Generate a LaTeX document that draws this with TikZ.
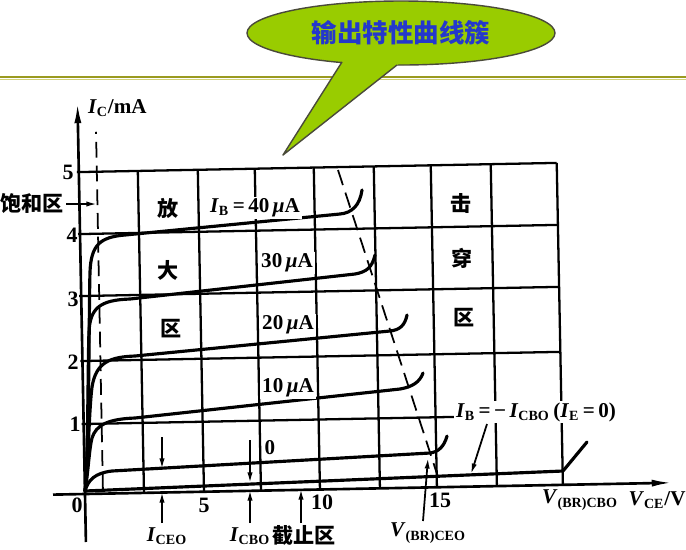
\documentclass[tikz,border=0pt]{standalone}
\usepackage{fontspec}
\setmainfont{Liberation Serif}
\newfontfamily\cjk{Noto Sans CJK SC}
\usetikzlibrary{arrows.meta}
\definecolor{bubblegreen}{HTML}{99CC00}
\definecolor{bubbleedge}{HTML}{4A4A3A}
\definecolor{titleblue}{HTML}{2438CC}
\definecolor{olivebar}{HTML}{9A9A20}
\definecolor{olivelight}{HTML}{D2D27A}
\begin{document}
\begin{tikzpicture}[x=0.02cm,y=-0.02cm,
  gridline/.style={line width=1.3pt},
  axisline/.style={line width=1.5pt},
  curve/.style={line width=1.8pt, line join=round, line cap=round},
  dashline/.style={line width=1pt, dash pattern=on 9pt off 4.5pt},
  lbl/.style={font=\bfseries\fontsize{12}{14}\selectfont, inner sep=1pt},
  wlbl/.style={lbl, fill=white},
  cn/.style={font=\cjk\bfseries\fontsize{12}{14}\selectfont, inner sep=1pt},
  ticklbl/.style={font=\bfseries\fontsize{12.5}{14}\selectfont, inner sep=0pt},
  arr/.style={line width=1pt, -{Latex[length=6pt,width=3pt]}},
]
\fill[white] (0,0) rectangle (686,549);
\useasboundingbox (0,0) rectangle (686,549);

% top bar
\draw[olivebar, line width=1.2pt] (0,77) -- (686,77);
\draw[olivelight, line width=0.8pt] (0,79.3) -- (686,79.3);

% grid and axes (slightly rotated like the scan)
\begin{scope}[shift={(85,494)}, rotate=1.1, x=0.02cm, y=0.02cm]
  \foreach \v in {70,133,198,260,322} \draw[gridline] (-2,\v) -- (478,\v);
  \foreach \u in {59,119,176,235,295,352,412,478} \draw[gridline] (\u,0) -- (\u,322);
  \coordinate (yaxA) at (0,-48);
  \coordinate (yaxB) at (0,392);
  \coordinate (xaxA) at (-32,0);
  \coordinate (xaxB) at (588,0);
  \draw[axisline, -{Latex[length=12pt,width=4pt]}] (yaxA) -- (yaxB);
  \draw[axisline, -{Latex[length=12pt,width=4pt]}] (xaxA) -- (xaxB);
  \coordinate (satA) at (18,4);
  \coordinate (satB) at (18,362);
  \draw[dashline] (satA) -- (satB);
\end{scope}

% breakdown boundary
\coordinate (bdA) at (338,170);
\coordinate (bdB) at (438,477);
\draw[dashline] (bdA) -- (bdB);

% output curves
\draw[curve] (85,491) .. controls (89,470) and (89,300) .. (90,272) .. controls (91,245) and (100,237) .. (125,235) -- (340,214) .. controls (352,213) and (360,205) .. (362,190);
\draw[curve] (85,491) .. controls (88,470) and (88,350) .. (89,332) .. controls (90,308) and (100,300) .. (130,299) -- (355,274) .. controls (366,272) and (372,268) .. (375,255);
\draw[curve] (85,491) .. controls (88,470) and (89,410) .. (92,387) .. controls (96,362) and (110,357) .. (135,356) -- (390,331) .. controls (400,330) and (405,325) .. (407,315);
\draw[curve] (85,491) .. controls (88,475) and (89,450) .. (92,438) .. controls (96,425) and (108,419) .. (135,418) -- (400,389) .. controls (412,387) and (420,382) .. (423,373);
\draw[curve] (85,491) .. controls (88,480) and (95,473) .. (112,471) -- (430,453) .. controls (438,452) and (444,447) .. (447,436);
\draw[curve] (85,491) -- (563,471) -- (587,442);

% tick labels
\node[ticklbl] (t0) at (77,505) {0};
\node[ticklbl] (t5) at (204,505) {5};
\node[ticklbl] (t10) at (322,502) {10};
\node[ticklbl] (t15) at (440,500) {15};
\node[ticklbl] (y1) at (75,424) {1};
\node[ticklbl] (y2) at (73,362) {2};
\node[ticklbl] (y3) at (73,299) {3};
\node[ticklbl] (y4) at (72,235) {4};
\node[ticklbl] (y5) at (68,172) {5};

% axis titles
\node[lbl, anchor=west] (ic) at (86,108) {\textit{I}\textsubscript{C}/mA};
\node[lbl] (vce) at (657,500) {\textit{V}\textsubscript{CE}/V};
\node[lbl] (vbrcbo) at (580,500) {\textit{V}\textsubscript{(BR)CBO}};

% region labels
\node[cn, anchor=east] (sat) at (66,204) {饱和区};
\coordinate (satend) at (97,204);
\draw[arr] (sat) -- (satend);
\node[cn] (fang) at (168,208) {放};
\node[cn] (da) at (168,270) {大};
\node[cn] (qu1) at (171,329) {区};
\node[cn] (ji) at (461,203) {击};
\node[cn] (chuan) at (462,258) {穿};
\node[cn] (qu2) at (464,318) {区};

% curve labels
\node[wlbl] (ib40) at (255,208) {\textit{I}\textsubscript{B}\,=\,40\,\textit{μ}A};
\node[wlbl] (ib30) at (287,263) {30\,\textit{μ}A};
\node[wlbl] (ib20) at (288,325) {20\,\textit{μ}A};
\node[wlbl] (ib10) at (288,388) {10\,\textit{μ}A};
\node[wlbl] (ib0) at (270,448) {0};
\node[wlbl] (ibneg) at (536,412) {\textit{I}\textsubscript{B}\,=\,−\,\textit{I}\textsubscript{CBO}\,(\textit{I}\textsubscript{E}\,=\,0)};
\coordinate (ibnegA) at (487,424);
\coordinate (ibnegB) at (471,474);
\draw[arr] (ibnegA) -- (ibnegB);

% bottom labels and arrows
\node[lbl] (iceo) at (167,536) {\textit{I}\textsubscript{CEO}};
\node[lbl] (icbo) at (250,536) {\textit{I}\textsubscript{CBO}};
\node[cn] (cut) at (304,535) {截止区};
\node[lbl] (vbrceo) at (428,533) {\textit{V}\textsubscript{(BR)CEO}};

\coordinate (iceoA) at (162,523);
\coordinate (iceoB) at (162,492);
\coordinate (iceoC) at (162,437);
\coordinate (iceoD) at (162,469);
\draw[arr] (iceoA) -- (iceoB);
\draw[arr] (iceoC) -- (iceoD);
\coordinate (icboA) at (250,523);
\coordinate (icboB) at (250,490);
\coordinate (icboC) at (250,440);
\coordinate (icboD) at (250,483);
\draw[arr] (icboA) -- (icboB);
\draw[arr] (icboC) -- (icboD);
\coordinate (cutA) at (301,523);
\coordinate (cutB) at (301,489);
\draw[arr] (cutA) -- (cutB);
\coordinate (vbrA) at (423,521);
\coordinate (vbrB) at (428,458);
\draw[arr] (vbrA) -- (vbrB);

% speech bubble
\fill[bubblegreen] (401,33) ellipse [x radius=154, y radius=32];
\draw[bubbleedge, line width=0.8pt] (401,33) ellipse [x radius=154, y radius=32];
\coordinate (tip) at (283,155);
\coordinate (baseL) at (342,62);
\coordinate (baseR) at (397,65);
\fill[bubblegreen] (tip) -- (349,51) -- (411,54) -- cycle;
\draw[bubbleedge, line width=0.8pt, line join=round] (baseL) -- (tip) -- (baseR);
\node[font=\cjk\bfseries\fontsize{14.5}{17}\selectfont, text=titleblue] (title) at (401,33) {输出特性曲线簇};
\end{tikzpicture}
\end{document}
